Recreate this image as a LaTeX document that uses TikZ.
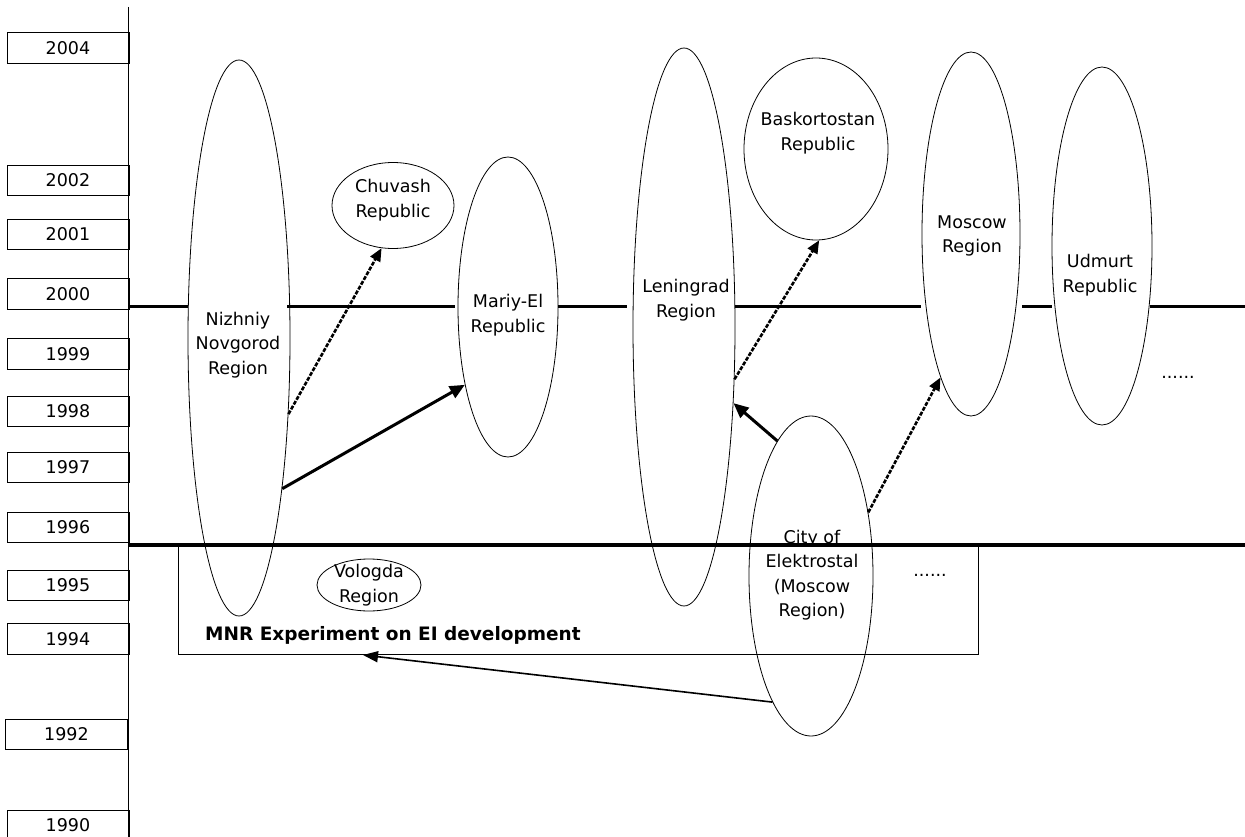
\documentclass[tikz,border=0pt]{standalone}
\usepackage{fontspec}
\setmainfont{DejaVu Sans}
\usetikzlibrary{shapes.geometric,arrows.meta}
\begin{document}
\begin{tikzpicture}[x=1pt,y=-1pt,
  every node/.style={font=\fontsize{17.5}{24.5}\selectfont},
  yearbox/.style={draw, line width=0.9pt, minimum width=122pt, minimum height=30.5pt, inner sep=0pt},
  region/.style={draw, ellipse, line width=0.8pt, inner sep=0pt},
  lbl/.style={align=center, inner sep=0pt},
  tline/.style={line width=3pt},
  bigline/.style={line width=4pt},
  solidarrow/.style={line width=3pt, -{Triangle[length=15pt,width=13pt]}},
  dasharrow/.style={line width=2.6pt, dash pattern=on 4pt off 1.5pt, -{Triangle[length=13pt,width=11pt]}},
  thinarrow/.style={line width=1.6pt, -{Triangle[length=15pt,width=11pt]}}
]
\useasboundingbox (0,0) rectangle (1245,837);
% axis
\coordinate (axtop) at (128,7);
\coordinate (axbot) at (128,840);
\draw[line width=1pt] (axtop) -- (axbot);
% year boxes
\node[yearbox] (y2004) at (68,48) {2004};
\node[yearbox] (y2002) at (68,180.5) {2002};
\node[yearbox] (y2001) at (68,234.5) {2001};
\node[yearbox] (y2000) at (68,294) {2000};
\node[yearbox] (y1999) at (68,354) {1999};
\node[yearbox] (y1998) at (68,411.5) {1998};
\node[yearbox] (y1997) at (68,467.5) {1997};
\node[yearbox] (y1996) at (68,527.5) {1996};
\node[yearbox] (y1995) at (68,585.5) {1995};
\node[yearbox] (y1994) at (68,639) {1994};
\node[yearbox] (y1992) at (66.5,734.5) {1992};
\node[yearbox] (y1990) at (68,825.5) {1990};
% MNR box
\node[draw, line width=0.9pt, minimum width=800pt, minimum height=109pt, inner sep=0pt] (mnr) at (578,599.5) {};
\node[anchor=west, inner sep=0pt, font=\fontsize{18.5}{24}\selectfont\bfseries] (mnrtxt) at (205,635) {MNR Experiment on EI development};
% 2000 line segments
\draw[tline] (128,306) -- (188,306);
\draw[tline] (287,306) -- (455,306);
\draw[tline] (558,306) -- (627,306);
\draw[tline] (735,306) -- (921,306);
\draw[tline] (1022,306) -- (1052,306);
\draw[tline] (1150,306) -- (1245,306);
% 1996 line
\draw[bigline] (128,545) -- (1245,545);
% regions
\node[region, minimum width=102pt, minimum height=556pt] (nn) at (239,338) {};
\node[lbl] (nntxt) at (238,345) {Nizhniy\\Novgorod\\Region};
\node[region, minimum width=122pt, minimum height=86pt] (ch) at (393,205.5) {};
\node[lbl] (chtxt) at (393,200) {Chuvash\\Republic};
\node[region, minimum width=100pt, minimum height=300pt] (me) at (508,307) {};
\node[lbl] (metxt) at (508,315) {Mariy-El\\Republic};
\node[region, minimum width=102pt, minimum height=558pt] (le) at (684,327) {};
\node[lbl] (letxt) at (686,300) {Leningrad\\Region};
\node[region, minimum width=144pt, minimum height=182pt] (ba) at (816,149) {};
\node[lbl] (batxt) at (818,133) {Baskortostan\\Republic};
\node[region, minimum width=98pt, minimum height=364pt] (mo) at (971,234) {};
\node[lbl] (motxt) at (972,236) {Moscow\\Region};
\node[region, minimum width=100pt, minimum height=358pt] (ud) at (1102,246) {};
\node[lbl] (udtxt) at (1100,275) {Udmurt\\Republic};
\node[region, minimum width=124pt, minimum height=320pt] (el) at (811,576) {};
\node[lbl] (eltxt) at (812,575) {City of\\Elektrostal\\(Moscow\\Region)};
\node[region, minimum width=104pt, minimum height=52pt] (vo) at (369,585) {};
\node[lbl] (votxt) at (369,585) {Vologda\\Region};
% dots
\node[anchor=base, inner sep=0pt] (dots1) at (930,576) {......};
\node[anchor=base, inner sep=0pt] (dots2) at (1178,378) {......};
% arrows
\draw[dasharrow] (nn.-57) -- (ch.-105);
\draw[solidarrow] (nn.-74) -- (me.-119);
\draw[solidarrow] (el.104) -- (le.-57);
\draw[dasharrow] (le.-46) -- (ba.-88);
\draw[dasharrow] (el.48) -- (mo.-102);
\coordinate (mnrtip) at (363,655);
\draw[thinarrow] (el.-107) -- (mnrtip);
\end{tikzpicture}
\end{document}
